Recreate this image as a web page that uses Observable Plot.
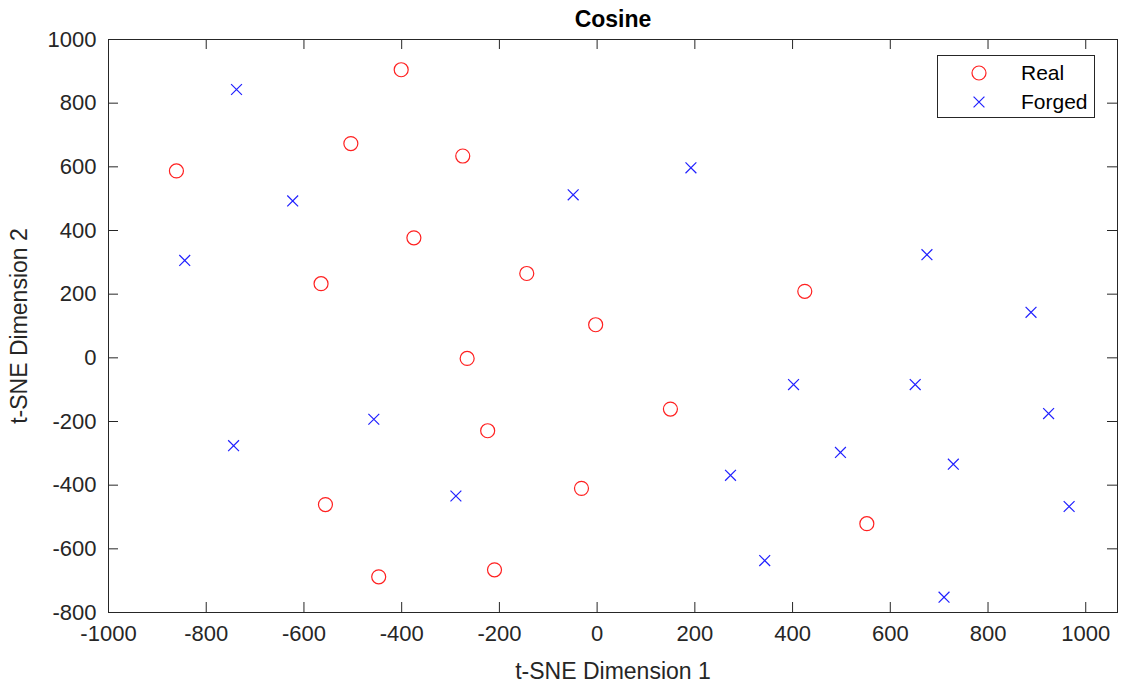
<!DOCTYPE html>
<html>
<head>
<meta charset="utf-8">
<script src="https://cdn.jsdelivr.net/npm/d3@7"></script>
<script src="https://cdn.jsdelivr.net/npm/@observablehq/plot@0.6"></script>
<style>
  html, body { margin: 0; padding: 0; background: #fff; }
  #wrap { position: relative; width: 1122px; height: 689px; font-family: "Liberation Sans", Arial, Helvetica, sans-serif; }
  #legend { position: absolute; left: 937px; top: 55px; width: 158px; height: 63px; border: 1px solid #262626; background: #fff; box-sizing: border-box; }
  .lg-row { position: absolute; left: 0; height: 28px; display: flex; align-items: center; font-size: 21px; color: #000; }
  .lg-row svg { margin-left: 33px; margin-right: 34px; }
</style>
</head>
<body>
<div id="wrap"></div>
<script>
// Series: Real (red circles)
const realX = [-401, -504, -275, -861, -565, -375, -144, -3, 425, -266, -224, -556, -32, -447, -210, 150, 552];
const realY = [905, 673, 634, 587, 233, 377, 265, 104, 209, -2, -229, -461, -410, -688, -666, -161, -521];
// Series: Forged (blue crosses)
const forgedX = [-738, -623, -49, -844, 192, 675, 888, -457, -744, -289, 402, 651, 924, 498, 273, 729, 966, 343, 710];
const forgedY = [843, 493, 512, 306, 597, 324, 143, -193, -276, -434, -84, -84, -175, -297, -369, -334, -467, -637, -752];
// Tick values
const xTicks = [-1000, -800, -600, -400, -200, 0, 200, 400, 600, 800, 1000];
const yTicks = [-800, -600, -400, -200, 0, 200, 400, 600, 800, 1000];
const seriesNames = ["Real", "Forged"];
const seriesColors = ["#ff2020", "#2020ff"];

const real = realX.map((x, i) => ({x, y: realY[i]}));
const forged = forgedX.map((x, i) => ({x, y: forgedY[i]}));

const W = 1122, H = 689;
const mL = 108, mR = 5, mT = 39, mB = 77;
const frameH = H - mT - mB, frameW = W - mL - mR;
const tickLen = 10;
const axisColor = "#262626";
const fmt = d => String(d);

const chart = Plot.plot({
  width: W, height: H,
  marginLeft: mL, marginRight: mR, marginTop: mT, marginBottom: mB,
  style: {fontFamily: '"Liberation Sans", Arial, Helvetica, sans-serif', background: "#fff", overflow: "visible"},
  x: {domain: [-1000, 1065]},
  y: {domain: [-800, 1000]},
  marks: [
    Plot.axisX(xTicks, {tickSize: 0, tickPadding: 13, fontSize: 22, fill: axisColor, tickFormat: fmt,
      label: "t-SNE Dimension 1", labelAnchor: "center", labelOffset: 66, labelArrow: "none"}),
    Plot.axisY(yTicks, {tickSize: 0, tickPadding: 12, fontSize: 22, fill: axisColor, tickFormat: fmt,
      label: "t-SNE Dimension 2", labelAnchor: "center", labelOffset: 98, labelArrow: "none"}),
    // inward ticks on all four sides
    Plot.tickX(xTicks, {x: d => d, insetTop: frameH - tickLen, stroke: axisColor}),
    Plot.tickX(xTicks, {x: d => d, insetBottom: frameH - tickLen, stroke: axisColor}),
    Plot.tickY(yTicks, {y: d => d, insetRight: frameW - tickLen, stroke: axisColor}),
    Plot.tickY(yTicks, {y: d => d, insetLeft: frameW - tickLen, stroke: axisColor}),
    Plot.frame({stroke: axisColor, strokeWidth: 1}),
    Plot.dot(real, {x: "x", y: "y", r: 7, symbol: "circle", stroke: seriesColors[0], fill: "none", strokeWidth: 1.2}),
    Plot.dot(forged, {x: "x", y: "y", r: 5, symbol: "times", stroke: seriesColors[1], strokeWidth: 1.2}),
    Plot.text(["Cosine"], {frameAnchor: "top", dy: -29, fontSize: 23, fontWeight: "bold", fill: "#000"})
  ]
});

const wrap = document.getElementById("wrap");
wrap.appendChild(chart);

// style axis labels
chart.querySelectorAll('[aria-label="x-axis label"] text, [aria-label="y-axis label"] text').forEach(t => {
  t.setAttribute("font-size", 23);
  t.style.fontSize = "23px";
  t.setAttribute("fill", axisColor);
});

// legend
const legend = document.createElement("div");
legend.id = "legend";
seriesNames.forEach((name, i) => {
  const row = document.createElement("div");
  row.className = "lg-row";
  row.style.top = (i === 0 ? 3 : 32) + "px";
  const ns = "http://www.w3.org/2000/svg";
  const svg = document.createElementNS(ns, "svg");
  svg.setAttribute("width", 16); svg.setAttribute("height", 16);
  const sym = d3.symbol(i === 0 ? d3.symbolCircle : d3.symbolTimes, i === 0 ? Math.PI * 49 : Math.PI * 25)();
  const p = document.createElementNS(ns, "path");
  p.setAttribute("d", sym);
  p.setAttribute("transform", "translate(8,8)");
  p.setAttribute("fill", "none");
  p.setAttribute("stroke", seriesColors[i]);
  p.setAttribute("stroke-width", 1.2);
  svg.appendChild(p);
  row.appendChild(svg);
  const span = document.createElement("span");
  span.textContent = name;
  row.appendChild(span);
  legend.appendChild(row);
});
wrap.appendChild(legend);
</script>
</body>
</html>
